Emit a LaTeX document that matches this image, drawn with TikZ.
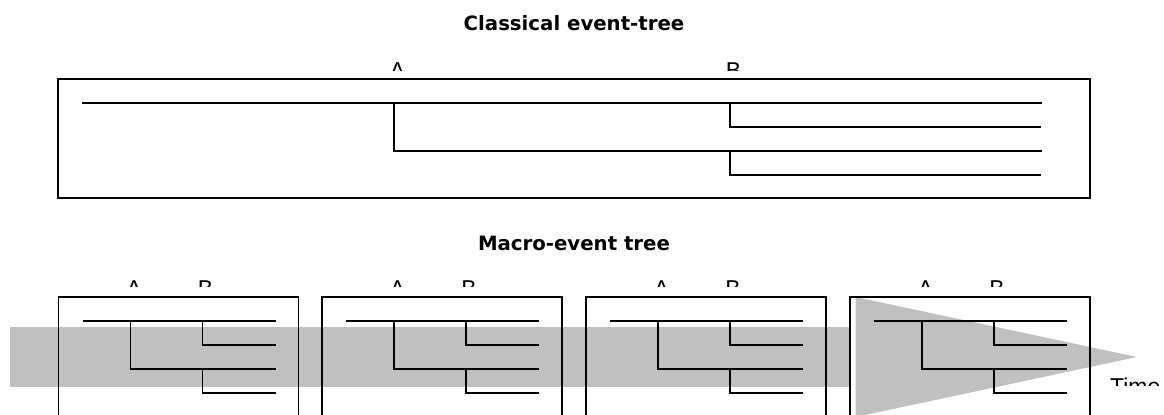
\documentclass[tikz,border=0pt]{standalone}
\usepackage{fontspec}
\newfontfamily\titlefont{DejaVu Sans}
\newfontfamily\labelfont{Liberation Sans}
\definecolor{bandgray}{HTML}{C0C0C0}

\begin{document}
\begin{tikzpicture}[x=1bp,y=-1bp,
  frame/.style={draw=black,line width=1.9bp},
  branch/.style={draw=black,line width=1.8bp},
  title/.style={font=\titlefont\bfseries\fontsize{19.8}{20}\selectfont,anchor=base,inner sep=0pt},
  eventlabel/.style={font=\labelfont\fontsize{23}{24}\selectfont,anchor=base,inner sep=0pt},
  timelabel/.style={font=\labelfont\fontsize{23}{24}\selectfont,anchor=base west,inner sep=0pt}]

\useasboundingbox (0,0) rectangle (1164,414);
\clip (0,0) rectangle (1164,414);

% time arrow behind the macro-event boxes
\fill[bandgray] (10,327) rectangle (851,387);
\fill[bandgray] (855.5,297) -- (1137,357) -- (855.5,417) -- cycle;

% titles
\node[title] (ctitle) at (574,30.7) {Classical event-tree};
\node[title] (mtitle) at (574,250) {Macro-event tree};

% classical event tree
\draw[frame] (57.7,79) rectangle (1090,198.3);
\coordinate (root) at (81.7,102.7);
\coordinate (a) at (394,102.7);
\coordinate (b1) at (730,102.7);
\coordinate (b2) at (730,150.7);
\coordinate (e1) at (1042,102.7);
\coordinate (e2) at (1041,126.7);
\coordinate (e3) at (1042,150.7);
\coordinate (e4) at (1041,174.7);
\draw[branch] (root) -- (e1);
\draw[branch] (a) |- (e3);
\draw[branch] (b1) |- (e2);
\draw[branch] (b2) |- (e4);
\begin{scope}
  \clip (0,0) rectangle (1164,70);
  \node[eventlabel] (ca) at (397.5,78.5) {A};
  \node[eventlabel] (cb) at (733.5,78.5) {B};
\end{scope}

% macro-event trees
\foreach \i/\x in {1/58.5,2/322,3/586,4/850} {
  \draw[frame] (\x,296.8) rectangle ++(240,140);
  \coordinate (m\i root) at ({\x+24},321);
  \coordinate (m\i a) at ({\x+72},321);
  \coordinate (m\i b1) at ({\x+144},321);
  \coordinate (m\i b2) at ({\x+144},369);
  \coordinate (m\i e1) at ({\x+217},321);
  \coordinate (m\i e2) at ({\x+217},345);
  \coordinate (m\i e3) at ({\x+217},369);
  \coordinate (m\i e4) at ({\x+217},393.3);
  \draw[branch] (m\i root) -- (m\i e1);
  \draw[branch] (m\i a) |- (m\i e3);
  \draw[branch] (m\i b1) |- (m\i e2);
  \draw[branch] (m\i b2) |- (m\i e4);
  \begin{scope}
    \clip (0,0) rectangle (1164,286.7);
    \node[eventlabel] (m\i la) at ({\x+75.5},296.5) {A};
    \node[eventlabel] (m\i lb) at ({\x+147},296.5) {B};
  \end{scope}
}

% time label
\begin{scope}
  \clip (0,0) rectangle (1164,385.5);
  \node[timelabel] (time) at (1110,394.5) {Time};
\end{scope}
\end{tikzpicture}
\end{document}
